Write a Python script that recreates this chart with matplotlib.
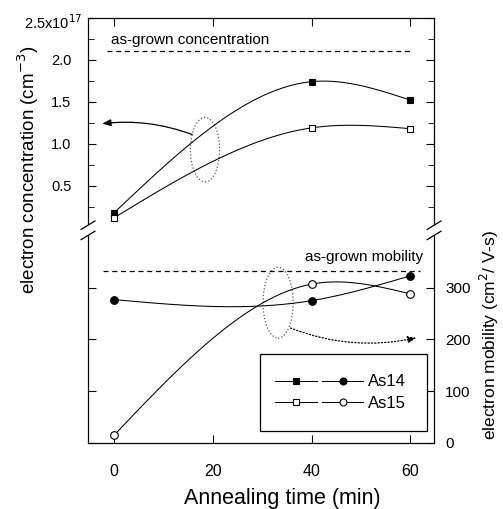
import matplotlib
matplotlib.use("Agg")
import matplotlib.pyplot as plt
import numpy as np
from matplotlib.patches import Ellipse, Rectangle
from matplotlib.lines import Line2D
from matplotlib.legend_handler import HandlerTuple

plt.rcParams['font.family'] = ['Liberation Sans', 'DejaVu Sans']

# data
time = [0, 40, 60]
conc_as14 = [0.18, 1.74, 1.52]   # x10^17 cm^-3
conc_as15 = [0.12, 1.19, 1.18]
mob_as14 = [277, 275, 323]       # cm^2/V-s
mob_as15 = [15, 307, 288]
conc_asgrown = 2.10
mob_asgrown = 333
conc_ticks = [0.5, 1.0, 1.5, 2.0, 2.5]
conc_labels = ['0.5', '1.0', '1.5', '2.0', '']
mob_ticks = [0, 100, 200, 300]
time_ticks = [0, 20, 40, 60]


# natural cubic spline through the measured points (smooth guide line)
def spline(x, y, n=200):
    x = np.asarray(x, float)
    y = np.asarray(y, float)
    h = np.diff(x)
    m = len(x)
    A = np.zeros((m, m))
    r = np.zeros(m)
    A[0, 0] = A[-1, -1] = 1
    for i in range(1, m - 1):
        A[i, i - 1] = h[i - 1]
        A[i, i] = 2 * (h[i - 1] + h[i])
        A[i, i + 1] = h[i]
        r[i] = 6 * ((y[i + 1] - y[i]) / h[i] - (y[i] - y[i - 1]) / h[i - 1])
    M = np.linalg.solve(A, r)
    xs = np.linspace(x[0], x[-1], n)
    k = np.clip(np.searchsorted(x, xs) - 1, 0, m - 2)
    x0, x1, hk = x[k], x[k + 1], h[k]
    ys = (M[k] * (x1 - xs) ** 3 + M[k + 1] * (xs - x0) ** 3) / (6 * hk) \
        + (y[k] / hk - M[k] * hk / 6) * (x1 - xs) \
        + (y[k + 1] / hk - M[k + 1] * hk / 6) * (xs - x0)
    return xs, ys


fig = plt.figure(figsize=(5.03, 5.09), dpi=100)
ax = fig.add_axes([0.175, 0.130, 0.688, 0.835])
ax2 = ax.twinx()

ax.set_xlim(-5.3, 64.8)
ax.set_ylim(-2.56, 2.5)
ax2.set_ylim(0, 822)

lw = 0.75
# concentration (upper part, left axis)
for vals, face in [(conc_as14, 'k'), (conc_as15, 'white')]:
    xs, ys = spline(time, vals)
    ax.plot(xs, ys, color='k', lw=lw, zorder=2)
    ax.plot(time, vals, ls='none', marker='s', ms=5, mfc=face, mec='k', mew=0.8, zorder=3)

# mobility (lower part, right axis)
for vals, face in [(mob_as14, 'k'), (mob_as15, 'white')]:
    xs, ys = spline(time, vals)
    ax2.plot(xs, ys, color='k', lw=lw, zorder=2)
    ax2.plot(time, vals, ls='none', marker='o', ms=5.5, mfc=face, mec='k', mew=0.8, zorder=3)

ax.plot([-1.4, 60.4], [conc_asgrown, conc_asgrown], color='k', lw=0.9, dashes=(4, 3))
ax2.plot([-2.2, 62.0], [mob_asgrown, mob_asgrown], color='k', lw=0.9, dashes=(4, 3))
ax.text(-0.6, 2.24, 'as-grown concentration', fontsize=11, va='center', ha='left')
ax2.text(62.6, 360, 'as-grown mobility', fontsize=11, va='center', ha='right')

# ellipses and arrows pointing to the relevant axes
ax.add_patch(Ellipse((18.4, 0.93), 5.9, 0.77, fill=False, ls=':', ec='0.35', lw=0.9))
ax.annotate('', xy=(-2.4, 1.24), xytext=(15.8, 1.11),
            arrowprops=dict(arrowstyle='-|>,head_length=0.5,head_width=0.2', color='k', lw=0.9,
                            connectionstyle='arc3,rad=0.12', shrinkA=0, shrinkB=0))
ax2.add_patch(Ellipse((33.2, 271), 6.1, 137, fill=False, ls=':', ec='0.35', lw=0.9))
ax2.annotate('', xy=(61.2, 203), xytext=(35.7, 222),
             arrowprops=dict(arrowstyle='-|>,head_length=0.5,head_width=0.2', color='k', lw=0.9,
                             ls=':', connectionstyle='arc3,rad=0.15', shrinkA=0, shrinkB=0))

# ticks
ax.set_xticks(time_ticks)
ax.set_yticks(conc_ticks, conc_labels)
ax.set_yticks(np.arange(0.25, 2.5, 0.5), minor=True)
ax.tick_params(axis='both', which='both', direction='in', top=True, right=True)
ax.tick_params(axis='y', which='major', length=6, pad=12, labelsize=10.5)
ax.tick_params(axis='y', which='minor', length=4)
ax.tick_params(axis='x', length=6, pad=15, labelsize=11.5)
ax2.set_yticks(mob_ticks)
ax2.tick_params(axis='y', direction='in', left=True, right=True, labelleft=False,
                labelright=True, length=6, labelsize=11, pad=8)
# top label of the concentration scale carries the multiplier
ax.text(-0.017, 2.44, '2.5x10$^{17}$', transform=ax.get_yaxis_transform(),
        ha='right', va='center', fontsize=10.5)

# labels
ax.set_xlabel('Annealing time (min)', fontsize=15.5)
ax.xaxis.set_label_coords(0.56, -0.132)
ax.xaxis.label.set_va('center')
ax.set_ylabel('electron concentration (cm$^{-3}$)', fontsize=13.5)
ax.yaxis.set_label_coords(-0.172, 0.642)
ax.yaxis.label.set_va('center')
ax2.set_ylabel('electron mobility (cm$^2$/ V-s)', fontsize=12.5)
ax2.yaxis.set_label_coords(1.16, 0.254)
ax2.yaxis.label.set_va('center')

# axis break marks
for xb in (0.0, 1.0):
    ax2.add_patch(Rectangle((xb - 0.012, 0.488), 0.024, 0.024, transform=ax2.transAxes,
                            fc='white', ec='none', clip_on=False, zorder=5))
    for yb in (0.488, 0.512):
        ax2.plot([xb - 0.02, xb + 0.02], [yb - 0.01, yb + 0.01], color='k', lw=0.9,
                 transform=ax2.transAxes, clip_on=False, zorder=6)

# legend
h14 = (Line2D([], [], color='k', lw=lw, marker='s', ms=4.5, mfc='k', mew=0.8),
       Line2D([], [], color='k', lw=lw, marker='o', ms=5, mfc='k', mew=0.8))
h15 = (Line2D([], [], color='k', lw=lw, marker='s', ms=4.5, mfc='white', mew=0.8),
       Line2D([], [], color='k', lw=lw, marker='o', ms=5, mfc='white', mew=0.8))
ax2.add_patch(Rectangle((0.497, 0.028), 0.483, 0.181, transform=ax2.transAxes,
                        fc='white', ec='k', lw=0.9, zorder=4))
leg = ax2.legend([h14, h15], ['As14', 'As15'], loc='center', bbox_to_anchor=(0.73, 0.118),
                 frameon=False, fontsize=12, handlelength=5.3, handletextpad=0.3,
                 labelspacing=0.4, handler_map={tuple: HandlerTuple(ndivide=None, pad=0.3)})
leg.set_zorder(6)

fig.savefig('out.png', dpi=100)
